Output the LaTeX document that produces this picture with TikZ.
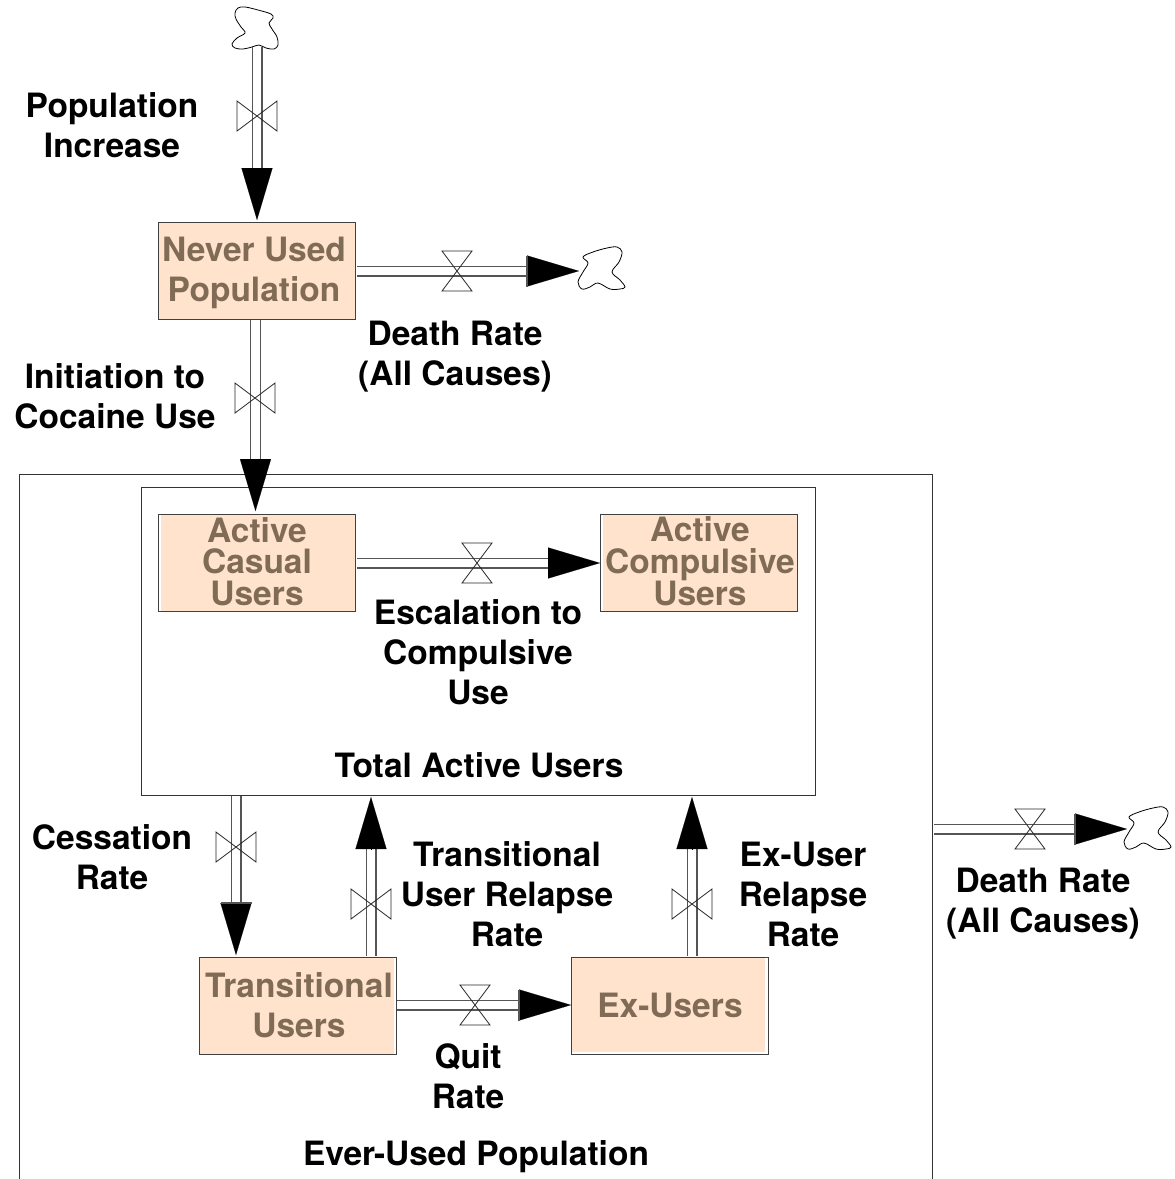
\documentclass[tikz,border=0pt]{standalone}
\usepackage{fontspec}
\setmainfont{TeX Gyre Heros}
\usetikzlibrary{arrows.meta,calc}
\definecolor{stockfill}{HTML}{FFE3CC}
\definecolor{stocktext}{HTML}{806B56}
\definecolor{pipegray}{HTML}{555555}
\tikzset{
  stockbox/.style={draw=black!75,line width=1pt,fill=stockfill,minimum width=197pt,minimum height=97pt,inner sep=0pt},
  stocklab/.style={inner sep=0pt,align=center,text=stocktext,font=\fontsize{33.5}{40}\selectfont\bfseries},
  tightlab/.style={stocklab,font=\fontsize{33.5}{31.5}\selectfont\bfseries},
  lab/.style={inner sep=0pt,align=center,text=black,font=\fontsize{33.5}{40}\selectfont\bfseries},
  framebox/.style={draw=black!80,line width=1pt,inner sep=0pt},
  pipeline/.style={draw=pipegray,line width=1.2pt,double=white,double distance=8.6pt},
  pipehead/.style={draw=black,line width=0.1pt,-{Triangle[length=52pt,width=31pt,fill=black]}},
  valveline/.style={draw=black!85,line width=0.8pt},
  cloudline/.style={draw=black,line width=0.8pt,fill=white},
  headbar/.style={draw=pipegray,line width=1.5pt}
}
\newcommand{\stockflow}[2]{%
  \draw[pipeline] (#1) -- ($(#2)!52pt!(#1)$);
  \draw[pipehead] ($(#2)!52pt!(#1)$) -- (#2);
}
\newcommand{\baseline}[2]{%
  \draw[headbar] ($($(#2)!52pt!(#1)$)!15.5pt!90:(#2)$) -- ($($(#2)!52pt!(#1)$)!15.5pt!-90:(#2)$);
}
\newcommand{\valveV}[1]{\draw[valveline] (#1) ++(-20,-15) -- ++(40,30) -- ++(0,-30) -- ++(-40,30) -- cycle;}
\newcommand{\valveH}[1]{\draw[valveline] (#1) ++(-15,-20) -- ++(30,40) -- ++(-30,0) -- ++(30,-40) -- cycle;}
\newcommand{\cloudUp}[1]{\draw[cloudline,shift={(#1)}] plot[smooth cycle,tension=0.6] coordinates {(-20,-15) (-17,-20) (-10,-21) (3,-18) (16,-14) (18,-10) (14,-5) (17,1) (22,9) (23,17) (19,21) (11,20) (4,17) (-3,19) (-12,21) (-20,20) (-23,16) (-18,10) (-10,5) (-14,-1) (-19,-9)};}
\newcommand{\cloudSide}[1]{\draw[cloudline,shift={(#1)}] plot[smooth cycle,tension=0.6] coordinates {(-18,-11) (-8,-16) (6,-20) (16,-21) (21,-16) (18,-6) (11,4) (19,12) (24,19) (19,21) (9,21) (-3,15) (-11,19) (-19,21) (-23,14) (-18,4) (-13,-5)};}
\begin{document}
\begin{tikzpicture}[x=1pt,y=-1pt]
\useasboundingbox (0,0) rectangle (1175,1179);
% frames
\coordinate (outerBL) at (19,1179);
\coordinate (outerTL) at (19,474.5);
\coordinate (outerTR) at (932.5,474.5);
\coordinate (outerBR) at (932.5,1179);
\draw[framebox] (outerBL) -- (outerTL) -- (outerTR) -- (outerBR);
\node[framebox,minimum width=674pt,minimum height=308pt] (active) at (478,641) {};
% stocks
\node[stockbox] (never) at (256.5,270.5) {};
\node[stockbox] (casual) at (256.5,563) {};
\node[stockbox] (compulsive) at (699,563) {};
\node[stockbox] (transitional) at (297.5,1006) {};
\node[stockbox] (exusers) at (669.5,1006) {};
% unpainted slivers inside the stock boxes
\fill[white] ($(casual.north west)+(1,1)$) rectangle ($(casual.south west)+(3.5,-1)$);
\fill[white] ($(compulsive.north west)+(1,1)$) rectangle ($(compulsive.south west)+(3,-1)$);
\fill[white] ($(transitional.north east)+(-3,1)$) rectangle ($(transitional.south east)+(-1,-1)$);
\fill[white] ($(exusers.north east)+(-4,1)$) rectangle ($(exusers.south east)+(-1,-1)$);
\fill[white] ($(exusers.south west)+(1,-3)$) rectangle ($(exusers.south east)+(-1,-1)$);
\node[stocklab] (neverT) at (254,273) {Never Used\\Population};
\node[tightlab] (casualT) at (257,561.5) {Active\\Casual\\Users};
\node[tightlab] (compulsiveT) at (700,561.5) {Active\\Compulsive\\Users};
\node[stocklab] (transitionalT) at (299,1005) {Transitional\\Users};
\node[stocklab] (exusersT) at (670,1005) {Ex-Users};
% clouds
\coordinate (cloudA) at (255,28);
\coordinate (cloudB) at (601,268);
\coordinate (cloudC) at (1147,828);
\cloudUp{cloudA}
\cloudSide{cloudB}
\cloudSide{cloudC}
% pipe ends
\coordinate (p1a) at (257,47);      \coordinate (p1b) at (257,220);
\coordinate (p2a) at (357,271);     \coordinate (p2b) at (579,271);
\coordinate (p3a) at (255.5,320);   \coordinate (p3b) at (255.5,511);
\coordinate (p4a) at (357,563);     \coordinate (p4b) at (600,563);
\coordinate (p5a) at (236,796);     \coordinate (p5b) at (236,955);
\coordinate (p6a) at (371,956);     \coordinate (p6b) at (371,797);
\coordinate (p7a) at (397,1005);    \coordinate (p7b) at (571,1005);
\coordinate (p8a) at (692,956);     \coordinate (p8b) at (692,797);
\coordinate (p9a) at (934,829);     \coordinate (p9b) at (1127,829);
\stockflow{p1a}{p1b}
\stockflow{p2a}{p2b}\baseline{p2a}{p2b}
\stockflow{p3a}{p3b}
\stockflow{p4a}{p4b}
\stockflow{p5a}{p5b}\baseline{p5a}{p5b}
\stockflow{p6a}{p6b}
\stockflow{p7a}{p7b}\baseline{p7a}{p7b}
\stockflow{p8a}{p8b}
\stockflow{p9a}{p9b}\baseline{p9a}{p9b}
% valves
\coordinate (v1) at (257,116);
\coordinate (v2) at (457,271);
\coordinate (v3) at (255,398);
\coordinate (v4) at (477,563);
\coordinate (v5) at (236,847);
\coordinate (v6) at (371,904);
\coordinate (v7) at (475,1005);
\coordinate (v8) at (692,904);
\coordinate (v9) at (1030,829);
\valveV{v1}\valveH{v2}\valveV{v3}\valveH{v4}\valveV{v5}\valveV{v6}\valveH{v7}\valveV{v8}\valveH{v9}
% labels
\node[lab] (l1) at (112,125) {Population\\Increase};
\node[lab] (l2) at (455,357) {Death Rate\\(All Causes)};
\node[lab] (l3) at (115,396) {Initiation to\\Cocaine Use};
\node[lab] (l4) at (478,652) {Escalation to\\Compulsive\\Use};
\node[lab] (l5) at (479,765) {Total Active Users};
\node[lab] (l6) at (112,857) {Cessation\\Rate};
\node[lab] (l7) at (507,894) {Transitional\\User Relapse\\Rate};
\node[lab] (l8) at (803,894) {Ex-User\\Relapse\\Rate};
\node[lab] (l9) at (1043,904) {Death Rate\\(All Causes)};
\node[lab] (l10) at (468,1076) {Quit\\Rate};
\node[lab] (l11) at (476,1157) {Ever-Used Population};
\end{tikzpicture}
\end{document}
